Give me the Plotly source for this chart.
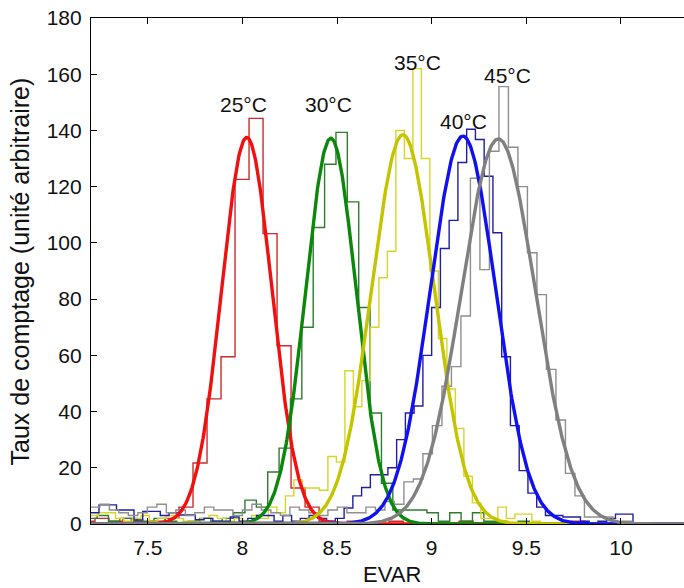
import plotly.graph_objects as go
import numpy as np

# ---------------- data ----------------
labels = ["25°C", "30°C", "35°C", "40°C", "45°C"]

# histogram: first bin start, bin width, counts
red_start, red_width = 7.147, 0.074
red_counts = [1, 2, 1, 2, 0, 1, 2, 6, 21.7, 44.5, 59.5, 122.6, 144.3, 103.3, 63.4, 12.8, 6,
              1, 0, 1, 0, 0, 1, 0, 0, 0, 0, 1, 0, 0, 0, 0, 0, 0, 0, 1, 0, 0, 0, 0, 0, 0, 0, 0]

green_start, green_width = 7.172, 0.0601
green_counts = [2, 3, 1, 2, 1, 1, 2, 1, 0, 1, 2, 1, 2, 4, 8.5, 6, 18.5, 27, 44.5, 70,
                105.5, 128, 139.3, 114.6, 77, 39.5, 14.5, 5, 5, 5, 4, 1, 4, 1, 4, 1, 1,
                0, 1, 0, 0, 0, 0, 0, 0, 0, 0, 0, 0, 0, 0, 0, 0]

yellow_start, yellow_width = 7.1944, 0.0449
yellow_counts = [3, 4, 4, 2, 1, 2, 3, 1, 2, 3, 2, 1, 1, 2, 3, 2, 1, 2, 1, 3,
                 2, 6, 4, 10, 15.7, 12.8, 12.8, 12, 24, 22, 54.5, 41.7, 51, 70, 87.6, 97,
                 140, 130, 162, 130, 90, 66, 48, 34, 17, 7.5, 2, 2, 6, 2, 3.5, 3.5, 1,
                 0, 0, 0, 0, 0, 0, 0, 0, 0, 0, 0, 0, 0, 0, 0, 0, 0]

blue_start, blue_width = 7.196, 0.04625
blue_counts = [4, 6.8, 6.8, 5, 5, 1.4, 4.5, 4.5, 3, 4, 3.2, 3.2, 1.5, 2, 1, 1, 2.5, 1, 2, 3,
               3, 1, 3, 1, 2, 3, 2, 1, 2, 5.7, 10, 13, 17.5, 17.5, 20, 30, 39.5, 42, 60, 77,
               98, 108, 128.6, 140.4, 136.8, 123.7, 103.6, 59.5, 35, 19, 11, 6, 3, 3, 2.5,
               2.5, 1, 0, 1, 2, 3.5, 3.5, 0, 0, 0, 0, 0, 0]

gray_start, gray_width = 7.1966, 0.0502
gray_counts = [6, 7, 5, 4, 3, 4, 6, 7, 4, 5, 3, 4, 6, 5, 5, 3, 5, 7, 5, 4, 3, 6, 5, 4, 3, 5, 6, 4,
               4, 6, 5, 8, 7, 15, 16, 25, 35, 49, 56, 74, 123, 90.5, 132.6, 155.6, 134, 120,
               96.5, 81.6, 55, 37, 18, 10, 2.5, 2.5, 2.5, 0, 1, 0, 0, 0, 0, 0]

# Gaussian fit parameters
fit_amp = [137.5, 137.2, 138.5, 138.0, 137.0]
fit_mu = [8.023, 8.467, 8.848, 9.165, 9.352]
fit_sigma = [0.133, 0.133, 0.165, 0.172, 0.195]

# label positions (data coords)
label_x = [8.005, 8.454, 8.924, 9.166, 9.400]
label_y = [149.3, 149.3, 164.3, 143.2, 159.4]

x_ticks = [7.5, 8, 8.5, 9, 9.5, 10]
x_ticklabels = ["7.5", "8", "8.5", "9", "9.5", "10"]
y_ticks = [0, 20, 40, 60, 80, 100, 120, 140, 160, 180]
x_title = "EVAR"
y_title = "Taux de comptage (unité arbitraire)"

# ---------------- style ----------------
hist_colors = ["#cc2b2b", "#2e7d2e", "#d6d62a", "#1f1fa0", "#8e8e8e"]
fit_colors = ["#f01010", "#0b870b", "#c4c400", "#1010f0", "#808080"]
XMIN, XMAX = 7.2, 10.333
FONT = "Liberation Sans, Arial, sans-serif"

fig = go.Figure()

hists = [(red_start, red_width, red_counts), (green_start, green_width, green_counts),
         (yellow_start, yellow_width, yellow_counts), (blue_start, blue_width, blue_counts),
         (gray_start, gray_width, gray_counts)]

for (start, width, counts), col, lab in zip(hists, hist_colors, labels):
    edges = [start + i * width for i in range(len(counts) + 1)]
    ys = list(counts) + [counts[-1]]
    fig.add_trace(go.Scatter(x=edges, y=ys, mode="lines", line=dict(color=col, width=1.4, shape="hv"),
                             name=lab + " hist", showlegend=False, hoverinfo="skip"))

xf = np.linspace(XMIN, XMAX, 800)
for a, m, s, col, lab in zip(fit_amp, fit_mu, fit_sigma, fit_colors, labels):
    yf = a * np.exp(-0.5 * ((xf - m) / s) ** 2)
    fig.add_trace(go.Scatter(x=xf, y=yf, mode="lines", line=dict(color=col, width=3.4),
                             name=lab + " fit", showlegend=False, hoverinfo="skip"))

for lx, ly, lab in zip(label_x, label_y, labels):
    fig.add_annotation(x=lx, y=ly, text=lab, showarrow=False,
                       font=dict(family=FONT, size=21, color="#111111"),
                       xanchor="center", yanchor="middle")

# axis titles as annotations for precise placement
fig.add_annotation(xref="paper", yref="paper", x=0.508, y=-0.1, text=x_title, showarrow=False,
                   font=dict(family=FONT, size=22, color="#111111"), xanchor="center", yanchor="middle")
fig.add_annotation(xref="paper", yref="paper", x=-0.119, y=0.5, text=y_title, showarrow=False,
                   textangle=-90, font=dict(family=FONT, size=25, color="#111111"),
                   xanchor="center", yanchor="middle")

fig.update_layout(
    width=684, height=588,
    margin=dict(l=91, r=0, t=18, b=64),
    paper_bgcolor="white", plot_bgcolor="white",
    font=dict(family=FONT, size=20, color="#111111"),
    showlegend=False,
)
fig.update_xaxes(range=[XMIN, XMAX], tickvals=x_ticks, ticktext=x_ticklabels,
                 showgrid=False, zeroline=False, showline=True, linecolor="black", linewidth=1.2,
                 mirror="ticks", ticks="inside", ticklen=6, tickcolor="black",
                 ticklabelstandoff=5, tickfont=dict(size=21))
fig.update_yaxes(range=[0, 180], tickvals=y_ticks,
                 showgrid=False, zeroline=False, showline=True, linecolor="black", linewidth=1.2,
                 mirror=False, ticks="inside", ticklen=6, tickcolor="black",
                 ticklabelstandoff=4, tickfont=dict(size=21))

# remove the default 8px page margin so the figure fills the window exactly
fig.write_html("out.html", config={"displayModeBar": False},
               post_script="document.body.style.margin='0';")
